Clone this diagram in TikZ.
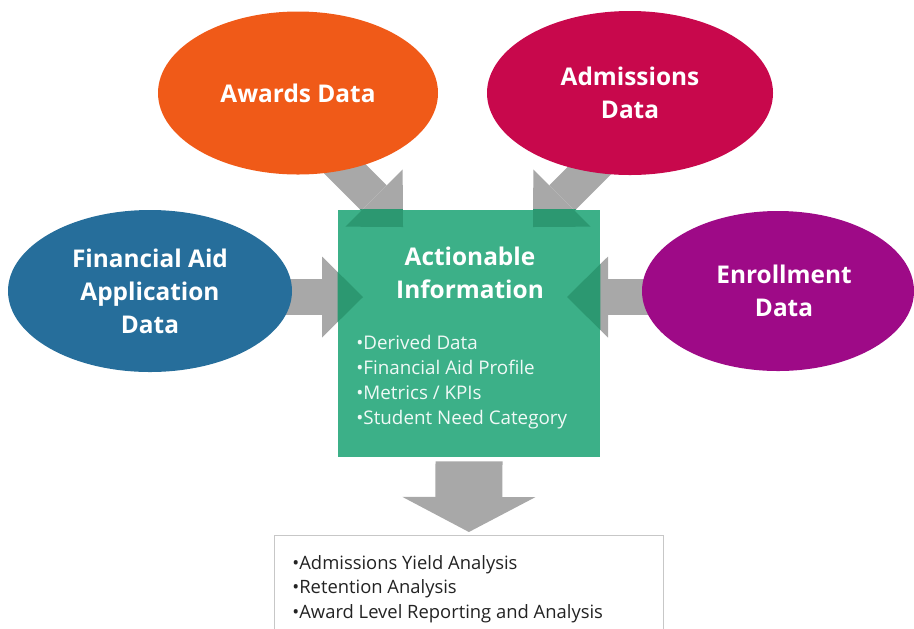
\documentclass[tikz,border=0pt]{standalone}
\usepackage{fontspec}
\setmainfont{Open Sans}
\usetikzlibrary{shapes.geometric,arrows.meta,backgrounds}

\definecolor{awardorange}{RGB}{240,90,24}
\definecolor{admitred}{RGB}{200,8,76}
\definecolor{aidblue}{RGB}{38,110,155}
\definecolor{enrollpurple}{RGB}{158,10,135}
\definecolor{infogreen}{RGB}{60,176,136}
\definecolor{overlapgreen}{RGB}{44,152,113}
\definecolor{feedgrey}{RGB}{168,168,168}
\definecolor{listgrey}{RGB}{35,35,35}

\tikzset{
	source/.style={ellipse, inner sep=0pt, text=white, align=center,
		font=\fontsize{12.2}{16.5}\selectfont\bfseries},
	feed/.style={draw=feedgrey, line width=18pt,
		-{Triangle[length=20.5pt, width=40.5pt, line width=0pt]}},
	outfeed/.style={draw=feedgrey, line width=33.5pt,
		-{Triangle[length=17.5pt, width=66.5pt, line width=0pt]}},
	bulletlist/.style={anchor=west, inner sep=0pt, align=left}
}

\begin{document}
\begin{tikzpicture}[x=0.5pt, y=-0.5pt]
		\useasboundingbox (0,0) rectangle (914,628);
		\clip (0,0) rectangle (914,628);

		% data sources
		\node[source, fill=awardorange, minimum width=140pt, minimum height=81.5pt] (awards) at (298,93) {Awards Data};
		\node[source, fill=admitred, minimum width=143pt, minimum height=82pt] (admissions) at (630,93) {Admissions\\Data};
		\node[source, fill=aidblue, minimum width=142pt, minimum height=81pt] (finaid) at (150,291) {Financial Aid\\Application\\Data};
		\node[source, fill=enrollpurple, minimum width=136pt, minimum height=80pt] (enrollment) at (778,291) {\hspace*{6pt}Enrollment\\\hspace*{6pt}Data};

		% centre box and results box
		\node[fill=infogreen, inner sep=0pt, minimum width=131pt, minimum height=123.5pt] (info) at (469,333.5) {};
		\node[draw=black!22, fill=white, inner sep=0pt, minimum width=194.5pt, minimum height=60pt, anchor=north west] (results) at (274,535) {};

		\coordinate (awTail) at (293,117);
		\coordinate (awTip) at (403,227);
		\coordinate (adTail) at (643,117);
		\coordinate (adTip) at (533,227);
		\coordinate (faTail) at (200,297);
		\coordinate (faTip) at (363,297);
		\coordinate (enTail) at (720,297);
		\coordinate (enTip) at (567,297);

		\begin{scope}[on background layer]
			\draw[feed] (awTail) -- (awTip);
			\draw[feed] (adTail) -- (adTip);
			\draw[feed] (faTail) -- (faTip);
			\draw[feed] (enTail) -- (enTip);
			\draw[outfeed, shorten <=2pt, shorten >=1.5pt] (info.south) -- (results.north);
		\end{scope}

		% arrow heads seen through the box
		\begin{scope}
			\clip (info.south west) rectangle (info.north east);
			\draw[feed, draw=overlapgreen] (awTail) -- (awTip);
			\draw[feed, draw=overlapgreen] (adTail) -- (adTip);
			\draw[feed, draw=overlapgreen] (faTail) -- (faTip);
			\draw[feed, draw=overlapgreen] (enTail) -- (enTip);
		\end{scope}

		\node[text=white, align=center, inner sep=0pt, font=\fontsize{12.2}{16.5}\selectfont\bfseries] (infotitle) at (470,273) {Actionable\\Information};
		\node[bulletlist, text=white!92!infogreen, font=\fontsize{9.4}{12.5}\selectfont] (infolist) at (356,382.5) {•Derived Data\\•Financial Aid Profile\\•Metrics / KPIs\\•Student Need Category};
		\node[bulletlist, text=listgrey, font=\fontsize{9.2}{12.25}\selectfont] (resultlist) at (292,589) {•Admissions Yield Analysis\\•Retention Analysis\\•Award Level Reporting and Analysis};
	\end{tikzpicture}
\end{document}
